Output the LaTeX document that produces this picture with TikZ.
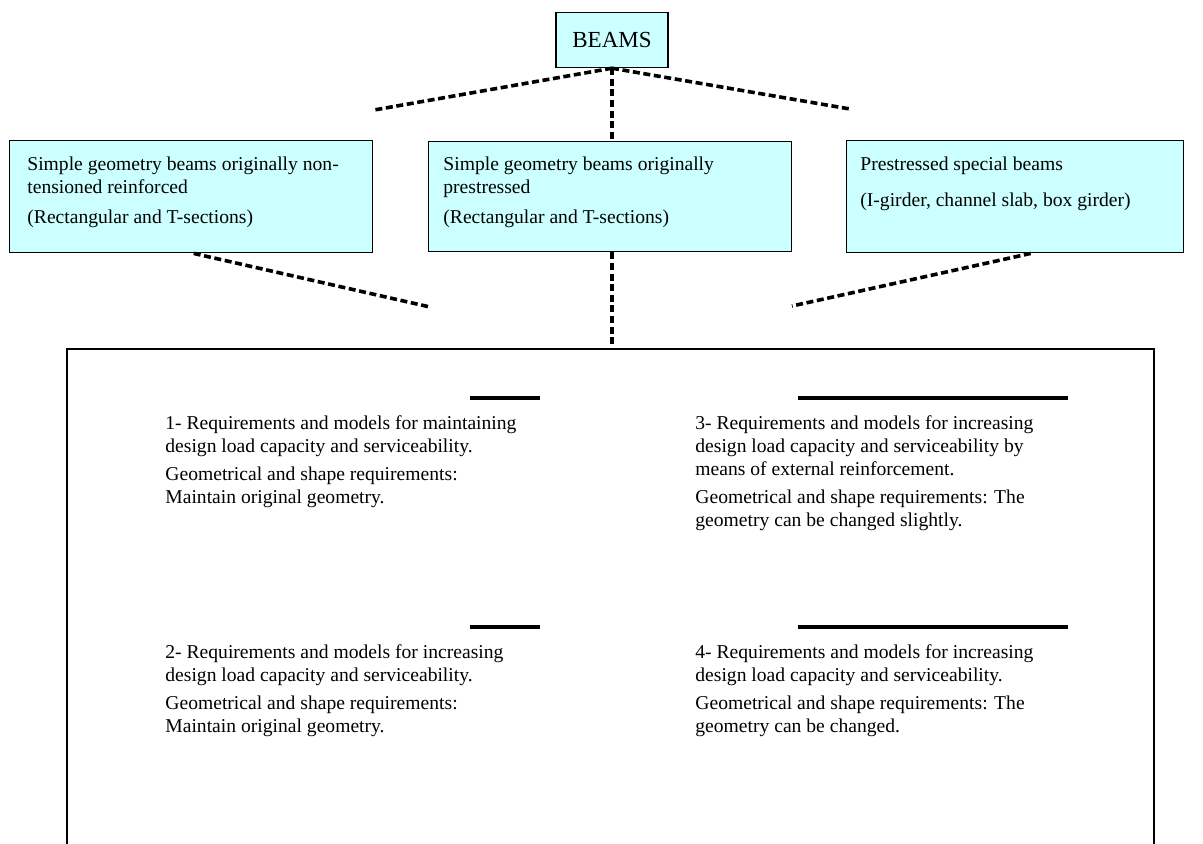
\documentclass[tikz,border=0pt]{standalone}
\usepackage{fontspec}
\setmainfont{Liberation Serif}
\usetikzlibrary{calc}
\definecolor{boxcyan}{HTML}{CCFFFF}

\begin{document}
\begin{tikzpicture}[x=0.5pt, y=-0.5pt,
    catbox/.style={rectangle, draw, line width=0.7pt, fill=boxcyan, inner sep=0pt, anchor=north west},
    txt/.style={inner sep=0pt, anchor=north west, align=left, font=\fontsize{9.8}{11.5}\selectfont},
    link/.style={line width=1.8pt, dash pattern=on 3.5pt off 1.8pt},
    uline/.style={line width=1.8pt}]
      \useasboundingbox (0,0) rectangle (1203,843);
      \clip (0,0) rectangle (1203,843);

      \node[catbox, anchor=center, minimum width=56pt, minimum height=27.5pt, font=\fontsize{11.5}{13}\selectfont] (beams) at (612,40) {BEAMS};

      \node[catbox, minimum width=181.5pt, minimum height=56pt] (lbox) at (9,140) {};
      \node[catbox, minimum width=181.5pt, minimum height=55pt] (mbox) at (428,141) {};
      \node[catbox, minimum width=168.5pt, minimum height=56pt] (rbox) at (846,140) {};
      \node[txt] (ltxt) at (27,156) {Simple geometry beams originally non-\\tensioned reinforced\\[3.5pt](Rectangular and T-sections)};
      \node[txt] (mtxt) at (443,156) {Simple geometry beams originally\\prestressed\\[3.5pt](Rectangular and T-sections)};
      \node[txt] (rtxt) at (860,156) {Prestressed special beams\\[6.5pt](I-girder, channel slab, box girder)};

      \node[rectangle, draw, line width=0.8pt, inner sep=0pt, anchor=north west, minimum width=543.5pt, minimum height=270pt] (main) at (66,348) {};

      \coordinate (bl) at (374,110);
      \coordinate (br) at (850,109);
      \coordinate (ll) at (430,307);
      \coordinate (rl) at (792,306);

      \draw[link] (beams.south) -- (bl);
      \draw[link] (beams.south) -- (br);
      \draw[link] (beams.south) -- (beams.south |- mbox.north);
      \draw[link] ([xshift=1.25pt]lbox.south) -- (ll);
      \draw[link] ([xshift=7.75pt]rbox.south) -- (rl);
      \draw[link] (mbox.south -| beams.south) -- (main.north -| beams.south);

      \draw[uline] (470,398) -- (540,398);
      \draw[uline] (798,398) -- (1068,398);
      \draw[uline] (470,627) -- (540,627);
      \draw[uline] (798,627) -- (1068,627);

      \node[txt] (req1) at (165,415) {1- Requirements and models for maintaining\\design load capacity and serviceability.\\[2.5pt]Geometrical and shape requirements:\\Maintain original geometry.};
      \node[txt] (req3) at (695,415) {3- Requirements and models for increasing\\design load capacity and serviceability by\\means of external reinforcement.\\[2.5pt]Geometrical and shape requirements: The\\geometry can be changed slightly.};
      \node[txt] (req2) at (165,644) {2- Requirements and models for increasing\\design load capacity and serviceability.\\[2.5pt]Geometrical and shape requirements:\\Maintain original geometry.};
      \node[txt] (req4) at (695,644) {4- Requirements and models for increasing\\design load capacity and serviceability.\\[2.5pt]Geometrical and shape requirements: The\\geometry can be changed.};
    \end{tikzpicture}
\end{document}
